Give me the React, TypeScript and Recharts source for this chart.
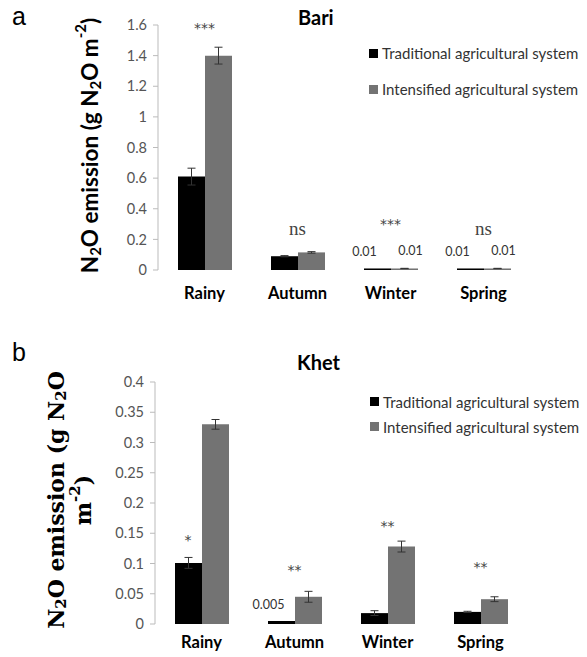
import React from "react";
import { BarChart, Bar, XAxis, YAxis, ErrorBar, LabelList, ReferenceDot } from "recharts";

const seasons = ["Rainy", "Autumn", "Winter", "Spring"];
const seriesNames = ["Traditional agricultural system", "Intensified agricultural system"];

// panel a: Bari
const bariTraditional = [0.61, 0.09, 0.01, 0.01];
const bariTraditionalErr = [0.055, 0.004, 0, 0];
const bariIntensified = [1.4, 0.115, 0.01, 0.01];
const bariIntensifiedErr = [0.055, 0.005, 0.001, 0.001];
const bariTraditionalText = ["", "", "0.01", "0.01"];
const bariIntensifiedText = ["", "", "0.01", "0.01"];
const bariSignif = ["***", "ns", "***", "ns"];
const bariSignifAt = [1.613, 0.27, 0.33, 0.27];
const bariTicks = [0, 0.2, 0.4, 0.6, 0.8, 1, 1.2, 1.4, 1.6];

// panel b: Khet
const khetTraditional = [0.101, 0.005, 0.018, 0.02];
const khetTraditionalErr = [0.009, 0, 0.004, 0.001];
const khetIntensified = [0.33, 0.045, 0.128, 0.041];
const khetIntensifiedErr = [0.008, 0.009, 0.009, 0.004];
const khetTraditionalText = ["", "0.005", "", ""];
const khetSignif = ["*", "**", "**", "**"];
const khetSignifOver = ["traditional", "pair", "pair", "pair"];
const khetSignifAt = [0.147, 0.097, 0.17, 0.103];
const khetTicks = [0, 0.05, 0.1, 0.15, 0.2, 0.25, 0.3, 0.35, 0.4];

const BLACK = "#000000";
const GRAY = "#737373";
const SANS = "Lato, sans-serif";
const SERIF = "'Liberation Serif', serif";
const BAR = 27;

function rows(trad: number[], tradErr: number[], int: number[], intErr: number[], tradText: string[], intText: string[]) {
  return seasons.map((s, i) => ({
    season: s,
    traditional: trad[i],
    traditionalErr: tradErr[i],
    intensified: int[i],
    intensifiedErr: intErr[i],
    traditionalText: tradText[i],
    intensifiedText: intText[i],
  }));
}

const bariData = rows(bariTraditional, bariTraditionalErr, bariIntensified, bariIntensifiedErr, bariTraditionalText, bariIntensifiedText);
const khetData = rows(khetTraditional, khetTraditionalErr, khetIntensified, khetIntensifiedErr, khetTraditionalText, ["", "", "", ""]);

function ValueText(props: any) {
  const { x, y, width, value, dx = 0, dy = -14 } = props;
  if (!value) return null;
  return (
    <text x={x + width / 2 + dx} y={y + dy} textAnchor="middle" fontFamily={SANS} fontSize={12.5} style={{ fill: "#333" }}>
      {value}
    </text>
  );
}

function SigText(props: any) {
  const { viewBox, text, shift = 0 } = props;
  const isStar = text.startsWith("*");
  return (
    <text
      x={viewBox.x + viewBox.width / 2 + shift}
      y={viewBox.y + viewBox.height / 2}
      textAnchor="middle"
      dominantBaseline="central"
      dy={isStar ? 5 : 0}
      fontFamily={isStar ? "'DejaVu Sans', sans-serif" : SERIF}
      fontSize={isStar ? 14 : 19}
      style={{ fill: "#444" }}
    >
      {text}
    </text>
  );
}

function LegendBox({ left, top, gap }: { left: number; top: number; gap: number }) {
  const colors = [BLACK, GRAY];
  return (
    <div style={{ position: "absolute", left, top }}>
      {seriesNames.map((n, i) => (
        <div key={n} style={{ height: gap, display: "flex", alignItems: "center", fontFamily: SANS, fontSize: 15, color: "#333", whiteSpace: "nowrap" }}>
          <span style={{ display: "inline-block", width: 9, height: 9, background: colors[i], marginRight: 4 }} />
          {n}
        </div>
      ))}
    </div>
  );
}

function YLabelA(props: any) {
  const { viewBox } = props;
  const cx = viewBox.x + 89;
  const cy = viewBox.y + viewBox.height / 2 - 2;
  return (
    <text x={cx} y={cy} transform={`rotate(-90 ${cx} ${cy})`} textAnchor="middle" dominantBaseline="central" fontFamily={SANS} fontWeight={700} fontSize={22.5} fill="#000">
      N<tspan dy={6} fontSize={15}>2</tspan>
      <tspan dy={-6}>O  emission (g N</tspan>
      <tspan dy={6} fontSize={15}>2</tspan>
      <tspan dy={-6}>O m</tspan>
      <tspan dy={-9} fontSize={15}>-2</tspan>
      <tspan dy={9}>)</tspan>
    </text>
  );
}

function YLabelB(props: any) {
  const { viewBox } = props;
  const cy = viewBox.y + viewBox.height / 2 - 3;
  const x1 = viewBox.x + 56;
  const x2 = viewBox.x + 83;
  const font = "'DejaVu Serif', serif";
  return (
    <g>
      <text x={x1} y={cy} transform={`rotate(-90 ${x1} ${cy})`} textAnchor="middle" dominantBaseline="central" fontFamily={font} fontWeight={700} fontSize={22} fill="#000">
        N<tspan dy={5} fontSize={15}>2</tspan>
        <tspan dy={-5}>O  emission (g N</tspan>
        <tspan dy={5} fontSize={15}>2</tspan>
        <tspan dy={-5}>O</tspan>
      </text>
      <text x={x2} y={cy} transform={`rotate(-90 ${x2} ${cy})`} textAnchor="middle" dominantBaseline="central" fontFamily={font} fontWeight={700} fontSize={22} fill="#000">
        m<tspan dy={-8} fontSize={15}>-2</tspan>
        <tspan dy={8}>)</tspan>
      </text>
    </g>
  );
}

const tickStyle = { fill: "#555", fontSize: 14.5, fontFamily: SANS };
const catStyle = { fill: "#000", fontSize: 16.5, fontWeight: 700, fontFamily: SANS };

export default function App() {
  return (
    <div style={{ position: "absolute", left: 0, top: 0, width: 587, height: 657, background: "#fff", overflow: "hidden" }}>
      <div style={{ position: "absolute", left: 12, top: 2, fontFamily: "'Liberation Sans', Arial, sans-serif", fontSize: 25 }}>a</div>
      <div style={{ position: "absolute", left: 12, top: 338, fontFamily: "'Liberation Sans', Arial, sans-serif", fontSize: 25 }}>b</div>
      <div style={{ position: "absolute", left: 298, top: 5, fontFamily: SANS, fontWeight: 700, fontSize: 20 }}>Bari</div>
      <div style={{ position: "absolute", left: 297, top: 350, fontFamily: SANS, fontWeight: 700, fontSize: 20 }}>Khet</div>
      <LegendBox left={369} top={35} gap={36} />
      <LegendBox left={370} top={389} gap={25} />

      <div style={{ position: "absolute", left: 0, top: 0 }}>
        <BarChart width={587} height={310} data={bariData} margin={{ top: 25, right: 57, bottom: 0, left: 0 }} barGap={0} barSize={BAR}>
          <XAxis dataKey="season" axisLine={false} tickLine={false} tickSize={0} tickMargin={17} height={40} tick={catStyle} interval={0} />
          <YAxis
            width={158}
            domain={[0, 1.6]}
            ticks={bariTicks}
            interval={0}
            tick={tickStyle}
            tickSize={5}
            tickMargin={6}
            axisLine={{ stroke: "#bbb" }}
            tickLine={{ stroke: "#bbb" }}
            label={<YLabelA />}
          />
          <Bar dataKey="traditional" name={seriesNames[0]} fill={BLACK} isAnimationActive={false}>
            <ErrorBar dataKey="traditionalErr" width={4} stroke="#333" strokeWidth={1} />
            <LabelList dataKey="traditionalText" content={<ValueText dx={-13} dy={-12} />} />
          </Bar>
          <Bar dataKey="intensified" name={seriesNames[1]} fill={GRAY} isAnimationActive={false}>
            <ErrorBar dataKey="intensifiedErr" width={4} stroke="#333" strokeWidth={1} />
            <LabelList dataKey="intensifiedText" content={<ValueText dx={6} dy={-13} />} />
          </Bar>
          {seasons.map((s, i) => (
            <ReferenceDot key={s} x={s} y={bariSignifAt[i]} r={0} ifOverflow="visible" stroke="none" fill="none" label={<SigText text={bariSignif[i]} />} />
          ))}
        </BarChart>
      </div>

      <div style={{ position: "absolute", left: 0, top: 320 }}>
        <BarChart width={587} height={337} data={khetData} margin={{ top: 62, right: 60, bottom: 0, left: 0 }} barGap={0} barSize={BAR}>
          <XAxis dataKey="season" axisLine={false} tickLine={false} tickSize={0} tickMargin={12} height={33} tick={catStyle} interval={0} />
          <YAxis
            width={155}
            domain={[0, 0.4]}
            ticks={khetTicks}
            interval={0}
            tick={tickStyle}
            tickSize={5}
            tickMargin={6}
            axisLine={{ stroke: "#bbb" }}
            tickLine={{ stroke: "#bbb" }}
            label={<YLabelB />}
          />
          <Bar dataKey="traditional" name={seriesNames[0]} fill={BLACK} isAnimationActive={false}>
            <ErrorBar dataKey="traditionalErr" width={4} stroke="#333" strokeWidth={1} />
            <LabelList dataKey="traditionalText" content={<ValueText dx={-13} dy={-12} />} />
          </Bar>
          <Bar dataKey="intensified" name={seriesNames[1]} fill={GRAY} isAnimationActive={false}>
            <ErrorBar dataKey="intensifiedErr" width={4} stroke="#333" strokeWidth={1} />
          </Bar>
          {seasons.map((s, i) => (
            <ReferenceDot
              key={s}
              x={s}
              y={khetSignifAt[i]}
              r={0}
              ifOverflow="visible"
              stroke="none"
              fill="none"
              label={<SigText text={khetSignif[i]} shift={khetSignifOver[i] === "traditional" ? -BAR / 2 : 0} />}
            />
          ))}
        </BarChart>
      </div>
    </div>
  );
}
